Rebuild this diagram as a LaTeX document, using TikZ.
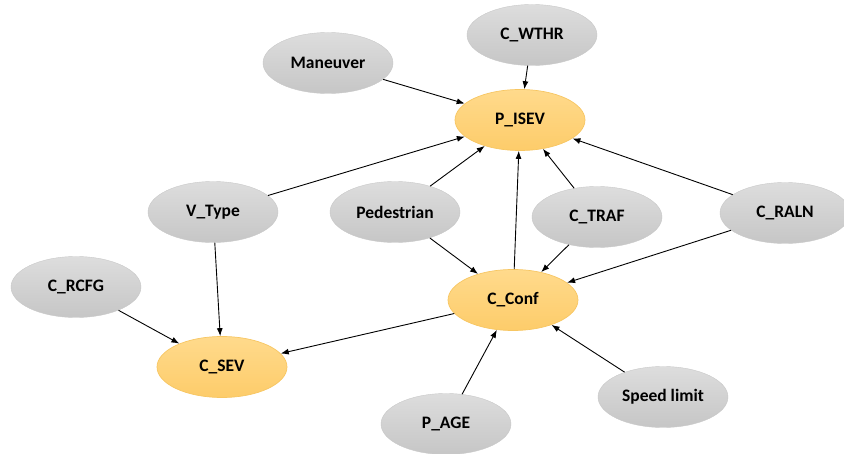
\documentclass[tikz,border=0pt]{standalone}
\usepackage{fontspec}
\setmainfont{Carlito}
\usetikzlibrary{shapes.geometric,arrows.meta}
\definecolor{grayTop}{HTML}{DDDDDD}
\definecolor{grayBot}{HTML}{C6C6C6}
\definecolor{grayLine}{HTML}{C8C8C8}
\definecolor{orgTop}{HTML}{FFDA8C}
\definecolor{orgBot}{HTML}{FDCC6A}
\definecolor{orgLine}{HTML}{F7C662}
\tikzset{
  var/.style={ellipse, minimum width=130pt, minimum height=61pt, inner sep=0pt,
    top color=grayTop, bottom color=grayBot, draw=grayLine, line width=0.4pt,
    font=\bfseries\fontsize{17.5}{19}\selectfont},
  target/.style={var, top color=orgTop, bottom color=orgBot, draw=orgLine, line width=0.7pt},
  link/.style={-{Latex[length=8pt,width=6pt]}, line width=0.9pt, black}
}
\begin{document}
\begin{tikzpicture}[x=1pt,y=-1pt]
\useasboundingbox (0,0) rectangle (844,454);
\node[var]    (wthr) at (532,35)  {C\_WTHR};
\node[var]    (man)  at (328,63)  {Maneuver};
\node[target] (isev) at (520,120) {P\_ISEV};
\node[var]    (vtyp) at (213,212) {V\_Type};
\node[var]    (ped)  at (395,212) {Pedestrian};
\node[var]    (traf) at (597,217) {C\_TRAF};
\node[var]    (raln) at (785,213) {C\_RALN};
\node[var]    (rcfg) at (76,287)  {C\_RCFG};
\node[target] (conf) at (513,300) {C\_Conf};
\node[target] (sev)  at (222,367) {C\_SEV};
\node[var]    (spd)  at (663,397) {Speed limit};
\node[var]    (age)  at (446,424) {P\_AGE};

\draw[link] (man)  -- (isev);
\draw[link] (wthr) -- (isev);
\draw[link] (vtyp) -- (isev);
\draw[link] (ped)  -- (isev);
\draw[link] (conf) -- (isev);
\draw[link] (traf) -- (isev);
\draw[link] (raln) -- (isev);
\draw[link] (ped)  -- (conf);
\draw[link] (traf) -- (conf);
\draw[link] (raln) -- (conf);
\draw[link] (spd)  -- (conf);
\draw[link] (age)  -- (conf);
\draw[link] (conf) -- (sev);
\draw[link] (vtyp) -- (sev);
\draw[link] (rcfg) -- (sev);
\end{tikzpicture}
\end{document}
